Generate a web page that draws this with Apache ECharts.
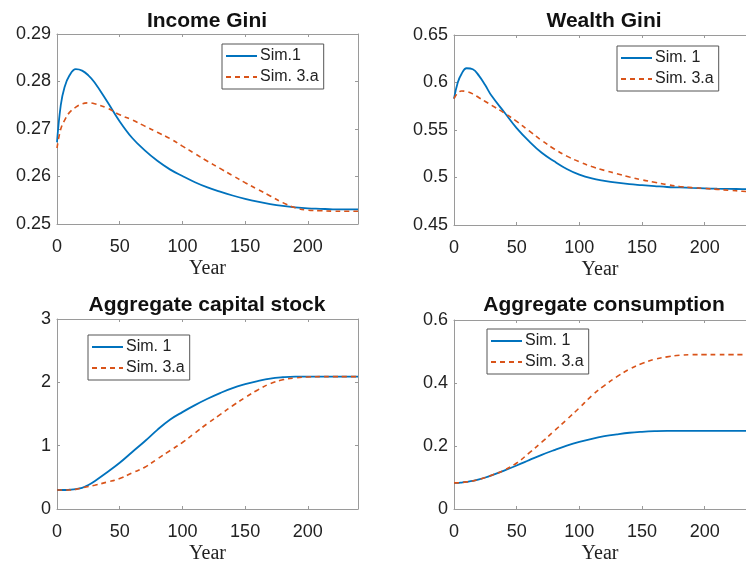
<!DOCTYPE html>
<html>
<head>
<meta charset="utf-8">
<script src="https://cdn.jsdelivr.net/npm/echarts@6/dist/echarts.min.js"></script>
<style>
html,body{margin:0;padding:0;background:#fff;}
#main{width:746px;height:565px;}
</style>
</head>
<body>
<div id="main"></div>
<script>
// ---- data ----
const years = [0, 3, 6, 10, 15, 20, 25, 30, 40, 50, 60, 70, 80, 90, 100, 110, 120, 130, 140, 150, 160, 170, 180, 190, 200, 210, 220, 230, 240];

const incomeSim1  = [0.2672, 0.2750, 0.2788, 0.2813, 0.2826, 0.2823, 0.2813, 0.2798, 0.2758, 0.2716, 0.2681, 0.2655, 0.2633, 0.2615, 0.2601, 0.2588, 0.2577, 0.2568, 0.2560, 0.2553, 0.2547, 0.2542, 0.2538, 0.2535, 0.2533, 0.2532, 0.2531, 0.2531, 0.2531];
const incomeSim3a = [0.2660, 0.2700, 0.2718, 0.2735, 0.2746, 0.2753, 0.2755, 0.2753, 0.2744, 0.2730, 0.2719, 0.2706, 0.2693, 0.2680, 0.2664, 0.2648, 0.2632, 0.2617, 0.2602, 0.2587, 0.2573, 0.2559, 0.2545, 0.2534, 0.2529, 0.2528, 0.2527, 0.2527, 0.2527];

const wealthSim1  = [0.583, 0.600, 0.609, 0.6150, 0.614, 0.607, 0.597, 0.586, 0.569, 0.552, 0.538, 0.526, 0.517, 0.509, 0.503, 0.499, 0.4965, 0.4945, 0.493, 0.492, 0.491, 0.490, 0.4895, 0.489, 0.4886, 0.4882, 0.488, 0.4878, 0.4876];
const wealthSim3a = [0.583, 0.589, 0.591, 0.5905, 0.588, 0.584, 0.580, 0.576, 0.568, 0.559, 0.549, 0.539, 0.530, 0.5225, 0.5165, 0.5115, 0.5075, 0.504, 0.5005, 0.4975, 0.495, 0.4925, 0.4905, 0.4893, 0.4885, 0.4875, 0.4865, 0.4855, 0.4845];

const capitalSim1  = [0.30, 0.30, 0.30, 0.305, 0.315, 0.335, 0.38, 0.44, 0.58, 0.73, 0.90, 1.07, 1.25, 1.41, 1.53, 1.64, 1.74, 1.83, 1.91, 1.97, 2.02, 2.06, 2.08, 2.09, 2.09, 2.09, 2.09, 2.09, 2.09];
const capitalSim3a = [0.30, 0.30, 0.30, 0.30, 0.31, 0.335, 0.355, 0.375, 0.425, 0.48, 0.57, 0.66, 0.79, 0.92, 1.05, 1.20, 1.35, 1.49, 1.63, 1.76, 1.88, 1.98, 2.04, 2.07, 2.085, 2.09, 2.09, 2.09, 2.09];

const consSim1  = [0.083, 0.083, 0.084, 0.086, 0.089, 0.094, 0.100, 0.107, 0.122, 0.138, 0.155, 0.172, 0.187, 0.201, 0.213, 0.223, 0.231, 0.237, 0.242, 0.245, 0.247, 0.248, 0.248, 0.248, 0.248, 0.248, 0.248, 0.248, 0.248];
const consSim3a = [0.083, 0.083, 0.084, 0.086, 0.089, 0.094, 0.100, 0.107, 0.123, 0.146, 0.178, 0.212, 0.248, 0.284, 0.321, 0.360, 0.392, 0.420, 0.444, 0.462, 0.475, 0.483, 0.488, 0.490, 0.490, 0.490, 0.490, 0.490, 0.490];

const titles = ['Income Gini', 'Wealth Gini', 'Aggregate capital stock', 'Aggregate consumption'];
const legendNames = [['Sim.1', 'Sim. 3.a'], ['Sim. 1', 'Sim. 3.a'], ['Sim. 1', 'Sim. 3.a'], ['Sim. 1', 'Sim. 3.a']];
const yRanges = [[0.25, 0.29, 0.01], [0.45, 0.65, 0.05], [0, 3, 1], [0, 0.6, 0.2]];
const xTickStep = 50;
// visible x range of each panel (right-hand panels are cut off by the figure edge)
const xMax = [240, 233, 240, 233];

// ---- layout ----
const grids = [
  {left: 57, top: 34, width: 301, height: 190},
  {left: 454, top: 35, width: 292, height: 190},
  {left: 57, top: 319, width: 301, height: 191},
  {left: 454, top: 320, width: 292, height: 190}
];
const hasRightEdge = [true, false, true, false];
const legendPos = [[222, 44], [617, 46], [88, 335], [487, 329]];
const titleY = [21, 21, 305, 305];

const BLUE = '#0072BD', RED = '#D95319';
const AXC = '#9a9a9a', TXT = '#222';
const FONT = 'Liberation Sans, Arial, Helvetica, sans-serif';

function seriesData(i) {
  return [[incomeSim1, incomeSim3a], [wealthSim1, wealthSim3a], [capitalSim1, capitalSim3a], [consSim1, consSim3a]][i];
}

const option = {
  backgroundColor: '#fff',
  animation: false,
  grid: [], xAxis: [], yAxis: [], series: [], legend: [], graphic: []
};

const tick = {show: true, inside: true, length: 3, lineStyle: {color: AXC}};
const line = {show: true, onZero: false, lineStyle: {color: AXC, width: 1}};

grids.forEach((g, i) => {
  option.grid.push(Object.assign({show: false, containLabel: false}, g));
  option.xAxis.push({
    type: 'value', gridIndex: i, position: 'bottom', min: 0, max: xMax[i], interval: xTickStep,
    axisLine: line, splitLine: {show: false}, axisTick: tick,
    axisLabel: {color: TXT, fontSize: 18, fontFamily: FONT, margin: 14, showMaxLabel: xMax[i] % xTickStep === 0},
    name: 'Year', nameLocation: 'middle', nameGap: 35,
    nameTextStyle: {color: TXT, fontSize: 20, fontFamily: 'Liberation Serif, Times New Roman, serif'}
  });
  option.yAxis.push({
    type: 'value', gridIndex: i, position: 'left', min: yRanges[i][0], max: yRanges[i][1], interval: yRanges[i][2],
    axisLine: line, splitLine: {show: false}, axisTick: tick,
    axisLabel: {color: TXT, fontSize: 18, fontFamily: FONT, margin: 6}
  });
});
grids.forEach((g, i) => {
  option.xAxis.push({
    type: 'value', gridIndex: i, position: 'top', min: 0, max: xMax[i], interval: xTickStep,
    axisLine: line, splitLine: {show: false}, axisLabel: {show: false}, axisTick: tick
  });
  option.yAxis.push({
    type: 'value', gridIndex: i, position: 'right', min: yRanges[i][0], max: yRanges[i][1], interval: yRanges[i][2],
    show: hasRightEdge[i],
    axisLine: line, splitLine: {show: false}, axisLabel: {show: false}, axisTick: tick
  });
});

grids.forEach((g, i) => {
  const [d1, d3] = seriesData(i);
  option.series.push({
    name: legendNames[i][0], type: 'line', xAxisIndex: i, yAxisIndex: i,
    data: years.map((x, k) => [x, d1[k]]),
    showSymbol: false, symbol: 'none', smooth: 0.4,
    lineStyle: {color: BLUE, width: 1.8}, itemStyle: {color: BLUE}, z: 3
  });
  option.series.push({
    name: legendNames[i][1], type: 'line', xAxisIndex: i, yAxisIndex: i,
    data: years.map((x, k) => [x, d3[k]]),
    showSymbol: false, symbol: 'none', smooth: 0.4,
    lineStyle: {color: RED, width: 1.6, type: [5, 4]}, itemStyle: {color: RED}, z: 4
  });
  option.legend.push({
    data: legendNames[i], left: legendPos[i][0], top: legendPos[i][1], orient: 'vertical',
    backgroundColor: '#fff', borderColor: '#555', borderWidth: 1,
    padding: [4, 5, 4, 3], itemGap: 5, itemWidth: 31, itemHeight: 14,
    itemStyle: {opacity: 0, borderWidth: 0},
    textStyle: {color: TXT, fontSize: 16, fontFamily: FONT, padding: [0, 0, 0, -2]},
    selectedMode: false
  });
  option.graphic.push({
    type: 'text', x: g.left + 150, y: titleY[i],
    style: {text: titles[i], textAlign: 'center', textVerticalAlign: 'middle',
      font: 'bold 21px ' + FONT, fill: '#111'}
  });
});

const chart = echarts.init(document.getElementById('main'), null, {renderer: 'canvas'});
chart.setOption(option);
</script>
</body>
</html>
